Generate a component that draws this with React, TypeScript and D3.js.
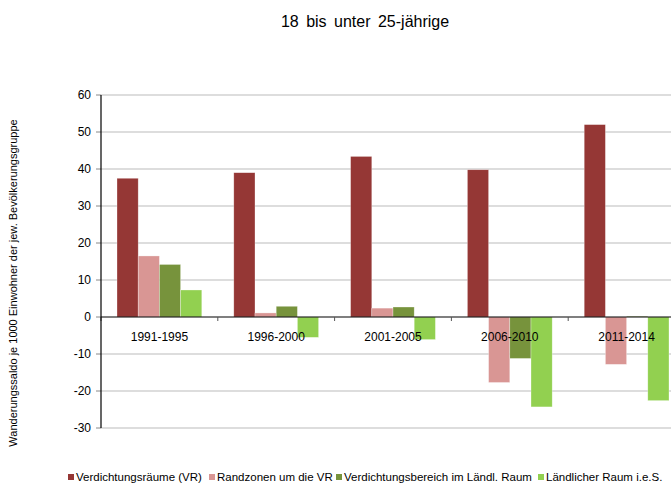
import React from "react";
import * as d3 from "d3";

const categories = ["1991-1995", "1996-2000", "2001-2005", "2006-2010", "2011-2014"];
const seriesNames = [
  "Verdichtungsräume (VR)",
  "Randzonen um die VR",
  "Verdichtungsbereich im Ländl. Raum",
  "Ländlicher Raum i.e.S.",
];
const seriesColors = ["#953735", "#D99694", "#77933C", "#92D050"];
const verdichtungsraeume = [37.5, 39.0, 43.4, 39.8, 52.0];
const randzonen = [16.5, 1.1, 2.4, -17.7, -12.8];
const verdichtungsbereich = [14.2, 2.9, 2.7, -11.2, 0.2];
const laendlicherRaum = [7.3, -5.5, -6.1, -24.3, -22.6];
const seriesValues = [verdichtungsraeume, randzonen, verdichtungsbereich, laendlicherRaum];
const yTicks = [60, 50, 40, 30, 20, 10, 0, -10, -20, -30];

const title = "18 bis unter 25-jährige";
const yLabel = "Wanderungssaldo je 1000 Einwohner der jew. Bevölkerungsgruppe";

export default function App() {
  const W = 671, H = 486;
  const left = 101, right = 685, top = 95, bottom = 428;
  const font = "'Liberation Sans', Arial, sans-serif";

  const y = d3.scaleLinear().domain([-30, 60]).range([bottom, top]);
  const x = d3.scaleBand<string>().domain(categories).range([left, right]);
  const groupPad = 16;
  const bw = (x.bandwidth() - 2 * groupPad) / 4;

  const legendX = [68, 209, 336, 538];

  return (
    <svg width={W} height={H} style={{ position: "absolute", left: 0, top: 0, background: "#fff" }} fontFamily={font}>
      <rect x={0} y={0} width={W} height={H} fill="#fff" />
      <text x={365} y={27} textAnchor="middle" fontSize={16} fill="#000" wordSpacing={3}>{title}</text>
      {yTicks.map((t) => (
        <g key={t}>
          {t !== 0 && (
            <line x1={left} x2={W} y1={y(t)} y2={y(t)} stroke="#d2d2d2" strokeWidth={1.5} />
          )}
          <line x1={left - 5} x2={left} y1={y(t)} y2={y(t)} stroke="#888" strokeWidth={1} />
          <text x={91} y={y(t)} dy="0.35em" textAnchor="end" fontSize={12} fill="#000">{t}</text>
        </g>
      ))}
      {categories.map((c, i) =>
        seriesValues.map((vals, s) => {
          const v = vals[i];
          const x0 = (x(c) as number) + groupPad + s * bw;
          return (
            <rect
              key={c + s}
              x={x0}
              width={bw}
              y={Math.min(y(v), y(0))}
              height={Math.abs(y(v) - y(0))}
              fill={seriesColors[s]}
              stroke="#ffffff"
              strokeOpacity={0.5}
              strokeWidth={0.6}
            />
          );
        })
      )}
      <line x1={left} x2={W} y1={y(0)} y2={y(0)} stroke="#000" strokeWidth={1.2} />
      {categories.map((c) => (
        <line key={"t" + c} x1={(x(c) as number)} x2={(x(c) as number)} y1={y(0)} y2={y(0) + 4} stroke="#555" strokeWidth={1} />
      ))}
      <line x1={left} x2={left} y1={top} y2={bottom} stroke="#000" strokeWidth={1.2} />
      {categories.map((c) => (
        <text key={"l" + c} x={(x(c) as number) + x.bandwidth() / 2} y={341} textAnchor="middle" fontSize={12} fill="#000">{c}</text>
      ))}
      <text
        transform={`translate(17, 283) rotate(-90)`}
        textAnchor="middle"
        fontSize={11}
        fill="#000"
      >{yLabel}</text>
      {seriesNames.map((n, s) => (
        <g key={n}>
          <rect x={legendX[s]} y={474} width={6} height={6} fill={seriesColors[s]} />
          <text x={legendX[s] + 8} y={481} fontSize={11.5} fill="#000">{n}</text>
        </g>
      ))}
    </svg>
  );
}
